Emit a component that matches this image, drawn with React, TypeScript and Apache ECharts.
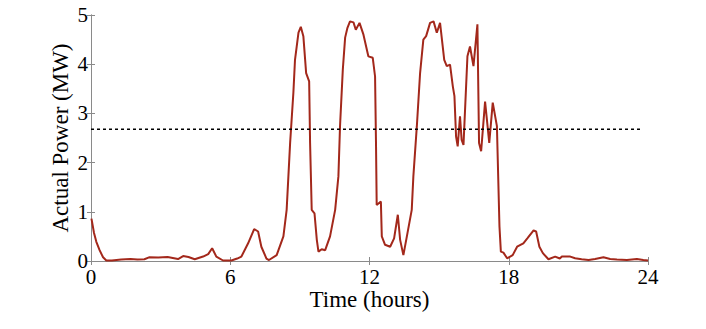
import React, { useEffect, useRef } from "react";
import * as echarts from "echarts";

const timeHours = [
  0.02, 0.13, 0.23, 0.37, 0.52, 0.66, 0.9, 1.3, 1.7, 2.0, 2.3, 2.5, 2.9, 3.3, 3.75, 3.97, 4.2, 4.47, 4.83, 5.05, 5.22, 5.4,
  5.69, 6.05, 6.3, 6.48, 6.77, 7.03, 7.2, 7.34, 7.56, 7.67, 8.0, 8.29, 8.43, 8.58, 8.72, 8.79, 8.94, 9.04, 9.15, 9.27,
  9.4, 9.44, 9.51, 9.63, 9.73, 9.8, 9.94, 10.09, 10.3, 10.52, 10.66, 10.73, 10.85, 10.95, 11.05, 11.16, 11.31, 11.41,
  11.57, 11.74, 11.95, 12.14, 12.24, 12.28, 12.31, 12.49, 12.53, 12.67, 12.89, 13.06, 13.22, 13.32, 13.46, 13.61, 13.82,
  13.89, 14.04, 14.18, 14.32, 14.44, 14.61, 14.76, 14.9, 15.04, 15.22, 15.33, 15.47, 15.59, 15.66, 15.73, 15.8, 15.9,
  15.97, 16.05, 16.22, 16.33, 16.48, 16.65, 16.72, 16.81, 16.98, 17.16, 17.31, 17.49, 17.6, 17.66, 17.77, 17.93, 18.17,
  18.36, 18.63, 18.8, 19.07, 19.18, 19.32, 19.47, 19.71, 20.0, 20.2, 20.29, 20.65, 20.86, 21.14, 21.44, 21.72, 22.08,
  22.37, 22.66, 23.09, 23.52, 23.8, 24.0,
];

const actualPowerMW = [
  0.86, 0.57, 0.39, 0.22, 0.075, 0.01, 0.01, 0.03, 0.04, 0.03, 0.035, 0.075, 0.07, 0.08, 0.04, 0.1, 0.08, 0.035, 0.09,
  0.14, 0.26, 0.09, 0.01, 0.01, 0.05, 0.09, 0.36, 0.65, 0.6, 0.29, 0.05, 0.02, 0.12, 0.5, 1.04, 2.4, 3.42, 4.09, 4.64,
  4.76, 4.57, 3.82, 3.65, 2.4, 1.04, 0.97, 0.43, 0.19, 0.24, 0.22, 0.5, 1.04, 1.72, 2.74, 3.89, 4.54, 4.74, 4.87, 4.85,
  4.7, 4.84, 4.6, 4.16, 4.13, 3.75, 2.4, 1.14, 1.21, 0.5, 0.33, 0.29, 0.46, 0.94, 0.43, 0.12, 0.5, 1.04, 1.72, 2.74,
  3.82, 4.5, 4.57, 4.84, 4.87, 4.64, 4.84, 4.09, 3.96, 3.99, 3.55, 3.35, 2.53, 2.33, 2.94, 2.46, 2.36, 4.16, 4.36, 3.96,
  4.81, 2.4, 2.23, 3.24, 2.4, 3.22, 2.74, 0.7, 0.19, 0.17, 0.055, 0.12, 0.29, 0.36, 0.46, 0.62, 0.6, 0.29, 0.16, 0.035,
  0.09, 0.05, 0.09, 0.09, 0.055, 0.035, 0.02, 0.04, 0.075, 0.04, 0.03, 0.02, 0.04, 0.02, 0.01,
];

const thresholdTimes = [0, 23.7];
const thresholdValue = 2.68;

const xTicks = [0, 6, 12, 18, 24];
const yTicks = [0, 1, 2, 3, 4, 5];

export default function App() {
  const ref = useRef<HTMLDivElement>(null);
  useEffect(() => {
    if (!ref.current) return;
    const chart = echarts.init(ref.current, undefined, { renderer: "svg" });
    const font = "Liberation Serif";
    const axisLine = { show: true, lineStyle: { color: "#8a8a8a", width: 1 } };
    const tick = { show: true, inside: true, length: 4, lineStyle: { color: "#8a8a8a" } };
    const labelStyle = { show: true, color: "#000", fontFamily: font, fontSize: 21 };
    chart.setOption({
      animation: false,
      textStyle: { fontFamily: font, color: "#000" },
      grid: { left: 91, right: 58, top: 15, bottom: 68, containLabel: false },
      xAxis: [
        {
          type: "value",
          min: xTicks[0],
          max: xTicks[xTicks.length - 1],
          interval: 6,
          axisLine,
          axisTick: tick,
          splitLine: { show: false },
          axisLabel: { ...labelStyle, margin: 5 },
          name: "Time (hours)",
          nameLocation: "middle",
          nameGap: 27,
          nameMoveOverlap: false,
          nameTextStyle: { color: "#000", fontFamily: font, fontSize: 23 },
        },
        {
          type: "value",
          position: "top",
          min: 0,
          max: 24,
          interval: 6,
          axisLine,
          axisTick: tick,
          axisLabel: { show: false },
          splitLine: { show: false },
        },
      ],
      yAxis: [
        {
          type: "value",
          min: yTicks[0],
          max: yTicks[yTicks.length - 1],
          interval: 1,
          axisLine,
          axisTick: tick,
          splitLine: { show: false },
          axisLabel: { ...labelStyle, margin: 3 },
          name: "Actual Power (MW)",
          nameLocation: "middle",
          nameGap: 19,
          nameMoveOverlap: false,
          nameTextStyle: { color: "#000", fontFamily: font, fontSize: 23 },
        },
        {
          type: "value",
          position: "right",
          min: 0,
          max: 5,
          interval: 1,
          axisLine,
          axisTick: tick,
          axisLabel: { show: false },
          splitLine: { show: false },
        },
      ],
      series: [
        {
          type: "line",
          data: timeHours.map((t, i) => [t, actualPowerMW[i]]),
          showSymbol: false,
          smooth: false,
          lineStyle: { color: "#a3281b", width: 2 },
          itemStyle: { color: "#a3281b" },
        },
        {
          type: "line",
          data: thresholdTimes.map((t) => [t, thresholdValue]),
          showSymbol: false,
          lineStyle: { color: "#000", width: 1.5, type: [3, 3] },
          itemStyle: { color: "#000" },
        },
      ],
    });
    return () => chart.dispose();
  }, []);
  return <div ref={ref} style={{ width: 706, height: 329, margin: -8 }} />;
}
